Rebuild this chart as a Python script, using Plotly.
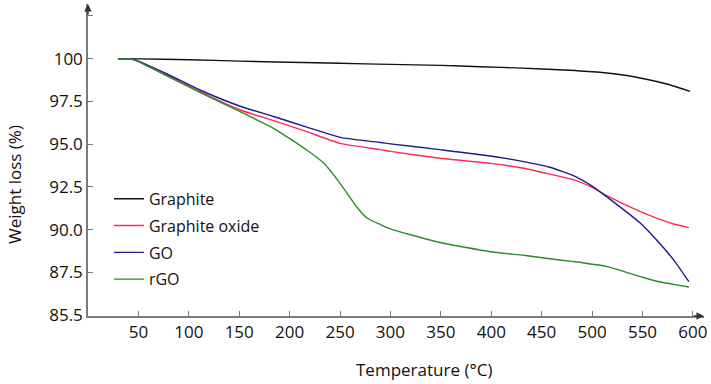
import plotly.graph_objects as go

# Data
t_graphite = [30, 50, 100, 150, 200, 250, 300, 350, 389, 430, 472, 505, 531, 554, 574, 597]
w_graphite = [100.0, 99.99, 99.94, 99.86, 99.79, 99.73, 99.67, 99.61, 99.53, 99.45, 99.34, 99.22, 99.05, 98.80, 98.52, 98.09]

t_gox = [30, 45, 78, 111, 151, 184, 217, 250, 290, 300, 349, 399, 432, 458, 482, 500, 515, 548, 564, 581, 596]
w_gox = [100.0, 99.95, 99.05, 98.07, 97.0, 96.38, 95.73, 95.05, 94.68, 94.58, 94.18, 93.88, 93.59, 93.25, 92.91, 92.48, 91.98, 91.05, 90.67, 90.33, 90.12]

t_go = [30, 45, 78, 111, 151, 184, 217, 250, 290, 300, 349, 399, 432, 458, 482, 500, 515, 548, 564, 581, 596]
w_go = [100.0, 99.96, 99.12, 98.17, 97.22, 96.62, 96.0, 95.40, 95.1, 95.02, 94.68, 94.31, 93.98, 93.65, 93.15, 92.55, 91.9, 90.37, 89.39, 88.22, 86.96]

t_rgo = [30, 45, 78, 111, 151, 184, 217, 234, 250, 267, 277, 290, 300, 320, 349, 399, 432, 458, 482, 515, 548, 564, 581, 596]
w_rgo = [100.0, 99.95, 99.0, 98.03, 96.9, 95.93, 94.66, 93.88, 92.71, 91.3, 90.67, 90.3, 90.05, 89.7, 89.25, 88.71, 88.5, 88.3, 88.13, 87.84, 87.25, 86.98, 86.8, 86.65]

names = ["Graphite", "Graphite oxide", "GO", "rGO"]
colors = ["#111111", "#ff2a55", "#1c1c8a", "#2e8b2a"]

x_ticks = [50, 100, 150, 200, 250, 300, 350, 400, 450, 500, 550, 600]
y_tickvals = [85.0, 87.5, 90.0, 92.5, 95.0, 97.5, 100.0, 102.5]
y_ticktext = ["85.5", "87.5", "90.0", "92.5", "95.0", "97.5", "100", ""]

FONT = "Open Sans"
AX = "#7a7a7a"

fig = go.Figure()
series = [(t_graphite, w_graphite), (t_gox, w_gox), (t_go, w_go), (t_rgo, w_rgo)]
for i, ((tx, wy), nm, c) in enumerate(zip(series, names, colors)):
    fig.add_trace(go.Scatter(x=tx, y=wy, mode="lines", name=nm,
                             line=dict(color=c, width=1.4, shape="spline", smoothing=0.5),
                             legendgroup=f"g{i}"))

XMAX = 611
YMIN, YMAX = 84.95, 103.2

fig.update_layout(
    width=711, height=384,
    margin=dict(l=88, r=7, t=4, b=68),
    paper_bgcolor="white", plot_bgcolor="white",
    font=dict(family=FONT, size=17, color="#111111"),
    showlegend=True,
    legend=dict(x=0.034, y=0.43, xanchor="left", yanchor="top",
                bgcolor="rgba(0,0,0,0)", font=dict(size=16),
                traceorder="grouped", tracegroupgap=3),
    xaxis=dict(range=[0, XMAX], showgrid=False, zeroline=False,
               showline=True, linecolor=AX, linewidth=1.5,
               ticks="inside", ticklen=5, tickcolor=AX, tickwidth=1,
               tickvals=x_ticks, ticktext=[str(v) for v in x_ticks]),
    yaxis=dict(range=[YMIN, YMAX], showgrid=False, zeroline=False,
               showline=True, linecolor=AX, linewidth=1.5,
               ticks="inside", ticklen=5, tickcolor=AX, tickwidth=1,
               tickvals=y_tickvals, ticktext=y_ticktext),
)

# axis arrows
fig.add_annotation(x=XMAX, y=YMIN, xref="x", yref="y", ax=-12, ay=0,
                   showarrow=True, arrowhead=2, arrowsize=1, arrowwidth=1.5,
                   arrowcolor="#333333", text="")
fig.add_annotation(x=0, y=YMAX, xref="x", yref="y", ax=0, ay=12,
                   showarrow=True, arrowhead=2, arrowsize=1, arrowwidth=1.5,
                   arrowcolor="#333333", text="")

# axis titles
fig.add_annotation(text="Temperature (°C)", xref="paper", yref="paper",
                   x=0.545, y=0, yshift=-53, xanchor="center", yanchor="middle",
                   showarrow=False, font=dict(family=FONT, size=17))
fig.add_annotation(text="Weight loss (%)", xref="paper", yref="paper",
                   x=0, xshift=-73, y=0.42, xanchor="center", yanchor="middle",
                   textangle=-90, showarrow=False, font=dict(family=FONT, size=17))

fig.write_html("out.html", config={"displayModeBar": False},
               post_script="document.body.style.margin='0';")
